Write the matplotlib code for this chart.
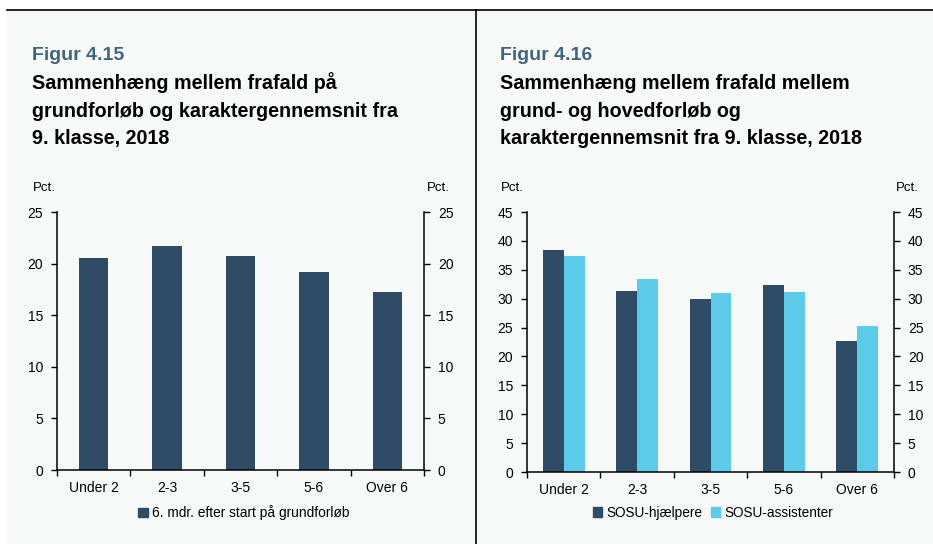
import matplotlib
matplotlib.use("Agg")
import matplotlib.pyplot as plt
import numpy as np
from matplotlib.patches import Rectangle
from matplotlib.lines import Line2D

plt.rcParams['font.family'] = ['Liberation Sans', 'DejaVu Sans']

categories = ["Under 2", "2-3", "3-5", "5-6", "Over 6"]
grundforloeb = [20.5, 21.7, 20.7, 19.2, 17.2]
hjaelpere = [38.4, 31.4, 29.9, 32.3, 22.7]
assistenter = [37.3, 33.4, 30.9, 31.2, 25.3]

title_left = ["Sammenhæng mellem frafald på",
              "grundforløb og karaktergennemsnit fra",
              "9. klasse, 2018"]
title_right = ["Sammenhæng mellem frafald mellem",
               "grund- og hovedforløb og",
               "karaktergennemsnit fra 9. klasse, 2018"]

DARK = "#2e4c65"
LIGHT = "#5ccbea"
TITLE_BLUE = "#3e6482"
BG = "#f7f9f9"

W, H = 933, 544
fig = plt.figure(figsize=(W / 100, H / 100), dpi=100)
fig.patch.set_facecolor("white")


def fx(px):
    return px / W


def fy(py):
    return 1 - py / H


# panel background and frame lines
fig.add_artist(Rectangle((fx(7), 0), 1 - fx(7), fy(10), transform=fig.transFigure,
                         facecolor=BG, edgecolor="none", zorder=-10))
fig.add_artist(Line2D([fx(7), 1], [fy(10), fy(10)], transform=fig.transFigure,
                      color="black", lw=1.2))
fig.add_artist(Line2D([fx(476), fx(476)], [0, fy(10)], transform=fig.transFigure,
                      color="black", lw=1.2))


def setup_axes(left, right, top, bottom, ymax, step):
    ax = fig.add_axes([fx(left), fy(bottom), fx(right - left), (bottom - top) / H])
    ax.set_facecolor("none")
    ax.set_xlim(-0.5, len(categories) - 0.5)
    ax.set_ylim(0, ymax)
    ax.set_yticks(np.arange(0, ymax + 0.1, step))
    ax.set_xticks(np.arange(-0.5, len(categories), 1.0))
    ax.set_xticklabels([])
    ax.set_xticks(np.arange(len(categories)), minor=True)
    ax.set_xticklabels(categories, minor=True)
    ax.tick_params(axis="x", which="minor", length=0, pad=8, labelsize=10)
    ax.tick_params(axis="x", which="major", length=4, width=1, direction="out")
    ax.tick_params(axis="y", length=4, width=1, direction="out", labelsize=10,
                   left=True, right=True, labelleft=True, labelright=True, pad=6)
    ax.spines["top"].set_visible(False)
    for s in ["left", "right", "bottom"]:
        ax.spines[s].set_linewidth(1.1)
    return ax


def draw_titles(xpx, number, lines):
    fig.text(fx(xpx), fy(60), number, fontsize=14, fontweight="bold",
             color=TITLE_BLUE, va="baseline", ha="left")
    for i, line in enumerate(lines):
        fig.text(fx(xpx), fy(89 + 27.6 * i), line, fontsize=14.2, fontweight="bold",
                 color="black", va="baseline", ha="left")


x = np.arange(len(categories))

# Figur 4.15
ax1 = setup_axes(57, 424, 212, 470, 25, 5)
ax1.bar(x, grundforloeb, width=0.4, color=DARK, zorder=2)
draw_titles(32, "Figur 4.15", title_left)
fig.text(fx(33), fy(188), "Pct.", fontsize=9.5, va="center", ha="left")
fig.text(fx(427), fy(188), "Pct.", fontsize=9.5, va="center", ha="left")
fig.legend(handles=[Rectangle((0, 0), 1, 1, color=DARK)],
           labels=["6. mdr. efter start på grundforløb"],
           loc="center", bbox_to_anchor=(fx(244), fy(513)), frameon=False,
           fontsize=9.9, handlelength=0.7, handleheight=0.7, handletextpad=0.3)

# Figur 4.16
ax2 = setup_axes(527, 894, 212, 472, 45, 5)
bw = 0.285
ax2.bar(x - bw / 2, hjaelpere, width=bw, color=DARK, zorder=2)
ax2.bar(x + bw / 2, assistenter, width=bw, color=LIGHT, zorder=2)
draw_titles(500, "Figur 4.16", title_right)
fig.text(fx(501), fy(188), "Pct.", fontsize=9.5, va="center", ha="left")
fig.text(fx(896), fy(188), "Pct.", fontsize=9.5, va="center", ha="left")
fig.legend(handles=[Rectangle((0, 0), 1, 1, color=DARK), Rectangle((0, 0), 1, 1, color=LIGHT)],
           labels=["SOSU-hjælpere", "SOSU-assistenter"], ncol=2,
           loc="center", bbox_to_anchor=(fx(713), fy(513)), frameon=False,
           fontsize=9.8, handlelength=0.7, handleheight=0.7, handletextpad=0.3,
           columnspacing=0.6)

fig.savefig("out.png", dpi=100, facecolor=fig.get_facecolor())
